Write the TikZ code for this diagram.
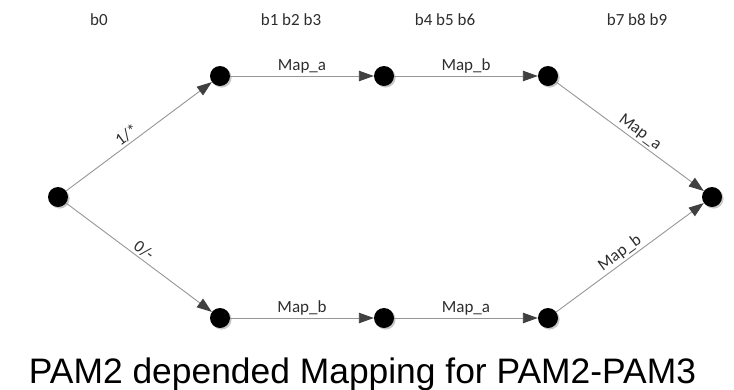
\documentclass[tikz,border=0pt]{standalone}
\usepackage{fontspec}
\setmainfont{Carlito}
\newfontfamily\captionfont{Liberation Sans}
\usetikzlibrary{arrows.meta,shadows}
\definecolor{edgegray}{RGB}{150,150,150}
\definecolor{tipgray}{RGB}{64,64,64}
\definecolor{labelgray}{RGB}{45,45,45}
\tikzset{
  state/.style={circle,fill=black,draw=none,minimum size=20pt,inner sep=0pt,
    drop shadow={shadow xshift=1.6pt,shadow yshift=-1.6pt,fill=black,opacity=0.22}},
  edge/.style={draw=edgegray,line width=0.9pt,
    -{Triangle[length=15pt,width=10.5pt,fill=tipgray,color=tipgray]}},
  lbl/.style={font=\fontsize{17}{20}\selectfont,text=labelgray,inner sep=2pt},
  col/.style={font=\fontsize{17}{20}\selectfont,text=labelgray,anchor=base,inner sep=0pt}
}
\begin{document}
\begin{tikzpicture}[x=1pt,y=-1pt]
  \useasboundingbox (0,0) rectangle (734,389);

  % bit-position headings
  \node[col] (h0) at (99,25) {b0};
  \node[col] (h1) at (291,25) {b1 b2 b3};
  \node[col] (h2) at (445,25) {b4 b5 b6};
  \node[col] (h3) at (637,25) {b7 b8 b9};

  % states
  \node[state] (s0) at (58,197) {};
  \node[state] (u1) at (220,76) {};
  \node[state] (u2) at (384,76) {};
  \node[state] (u3) at (548,76) {};
  \node[state] (d1) at (220,318) {};
  \node[state] (d2) at (384,318) {};
  \node[state] (d3) at (548,318) {};
  \node[state] (e)  at (712,197) {};

  % upper branch
  \path[edge] (s0) -- node[lbl,sloped,above,pos=0.45] {1/*} (u1);
  \path[edge] (u1) -- node[lbl,above] {Map\_a} (u2);
  \path[edge] (u2) -- node[lbl,above] {Map\_b} (u3);
  \path[edge] (u3) -- node[lbl,sloped,above,pos=0.53] {Map\_a} (e);

  % lower branch
  \path[edge] (s0) -- node[lbl,sloped,above] {0/-} (d1);
  \path[edge] (d1) -- node[lbl,above] {Map\_b} (d2);
  \path[edge] (d2) -- node[lbl,above] {Map\_a} (d3);
  \path[edge] (d3) -- node[lbl,sloped,above,pos=0.47] {Map\_b} (e);

  % caption
  \node[anchor=base,inner sep=0pt,font=\captionfont\fontsize{35.4}{40}\selectfont] (cap)
    at (362.5,383) {PAM2 depended Mapping for PAM2-PAM3};
\end{tikzpicture}
\end{document}
